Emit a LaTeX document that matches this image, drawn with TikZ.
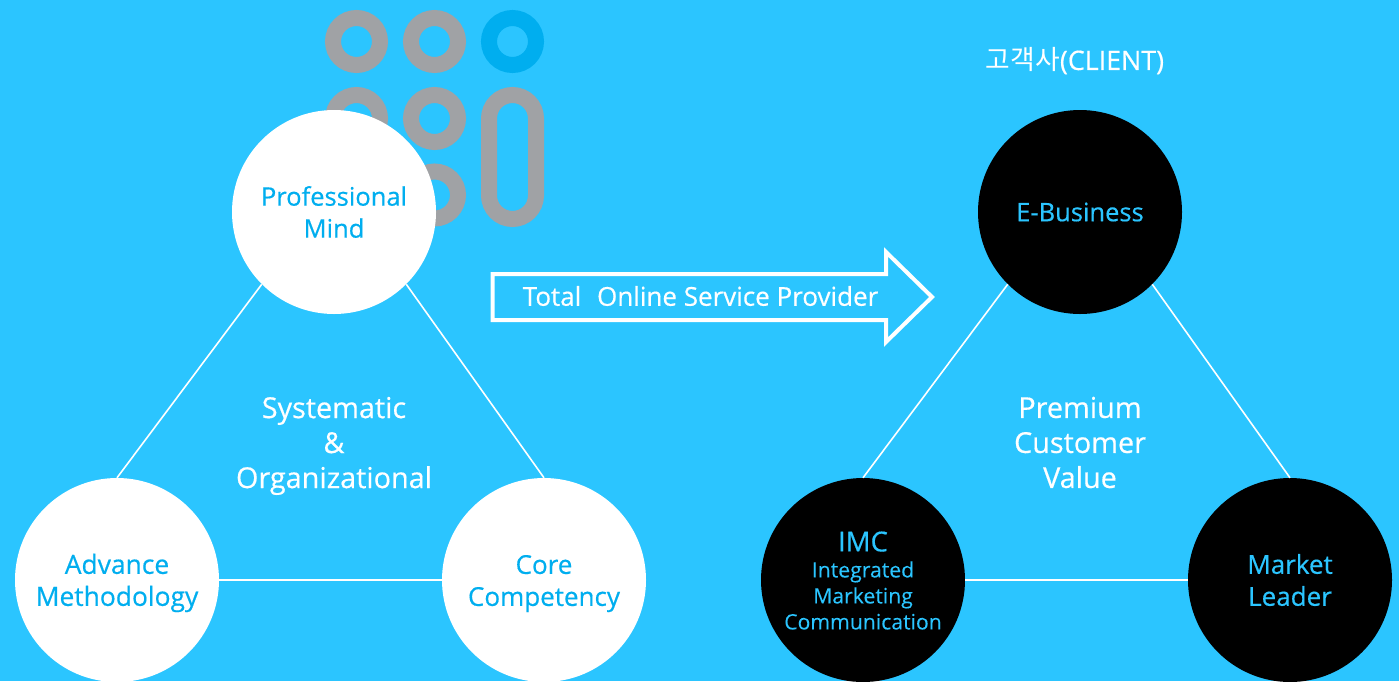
\documentclass[tikz,border=0pt]{standalone}
\usepackage{fontspec}
\setmainfont{Open Sans}[FakeBold=0.45]
\newfontfamily\krfont{Noto Sans CJK KR}
\newfontfamily\thinfont{Open Sans}[FakeBold=0.08]
\definecolor{bg}{HTML}{2BC5FF}
\definecolor{ink}{HTML}{00AEEF}
\definecolor{gry}{HTML}{A0A2A5}
\newcommand{\dropline}[1]{\rule{0pt}{#1}}
\begin{document}
\begin{tikzpicture}[x=1pt,y=-1pt,
  bigtxt/.style={font=\fontsize{28.8}{35}\selectfont,align=center,text=white,inner sep=0pt},
  whitec/.style={circle,fill=white,minimum size=204pt,inner sep=0pt,align=center,text=ink,font=\fontsize{26}{32}\selectfont},
  blackc/.style={circle,fill=black,minimum size=204pt,inner sep=0pt,align=center,text=bg,font=\fontsize{26}{32}\selectfont},
  ring/.style={circle,draw=gry,line width=16pt,minimum size=47pt,inner sep=0pt},
  pill/.style={draw=gry,line width=16pt,rounded corners=23.5pt},
  link/.style={draw=white,line width=1.6pt},
  arrowbox/.style={draw=white,line width=4pt,miter limit=10}]
\useasboundingbox (0,0) rectangle (1399,681);
\fill[bg] (0,0) rectangle (1399,681);
% logo
\node[ring] (r1) at (356.5,41.5) {};
\node[ring] (r2) at (434.5,41.5) {};
\node[ring,draw=ink] (r3) at (512.5,41.5) {};
\node[ring] (r4) at (356.5,118.5) {};
\node[ring] (r5) at (434.5,118.5) {};
\node[ring] (r6) at (434.5,195) {};
\draw[pill] (489,95) rectangle (536,219);
% arrow
\draw[arrowbox] (492.5,274) -- (886,274) -- (886,252) -- (932,297) -- (886,342) -- (886,320) -- (492.5,320) -- cycle;
\node[font=\fontsize{26}{30}\selectfont,text=white,inner sep=0pt] (tosp) at (700.5,296) {Total\hspace{0.35em} Online Service Provider};
% left
\node[whitec,font=\fontsize{25.5}{32}\selectfont] (pm) at (334,212) {Professional\\Mind};
\node[whitec,font=\fontsize{26.4}{32}\selectfont] (am) at (117,580) {\dropline{26pt}Advance\\Methodology};
\node[whitec] (cc) at (544,580) {\dropline{26pt}Core\\Competency};
\draw[link] (pm.south west) -- (am.north);
\draw[link] (pm.south east) -- (cc.north);
\draw[link] (am.east) -- (cc.west);
\node[bigtxt] (so) at (334,442.5) {\dropline{28pt}Systematic\\\&\\Organizational};
% right
\node[blackc,font=\fontsize{25.5}{32}\selectfont] (eb) at (1080,212) {E-Business};
\node[blackc,font=\thinfont\fontsize{21.2}{26}\selectfont] (imc) at (863,580) {\dropline{21pt}{\normalfont\fontsize{27.5}{26}\selectfont IMC}\\Integrated\\Marketing\\Communication};
\node[blackc] (ml) at (1290,580) {Market\\Leader};
\draw[link] (eb.south west) -- (imc.north);
\draw[link] (eb.south east) -- (ml.north);
\draw[link] (imc.east) -- (ml.west);
\node[bigtxt] (pv) at (1080,442.5) {Premium\\Customer\\Value};
\node[font=\fontsize{26.8}{30}\selectfont,text=white,inner sep=0pt] (cl) at (1075,61) {{\krfont 고객사}(CLIENT)};
\end{tikzpicture}
\end{document}
